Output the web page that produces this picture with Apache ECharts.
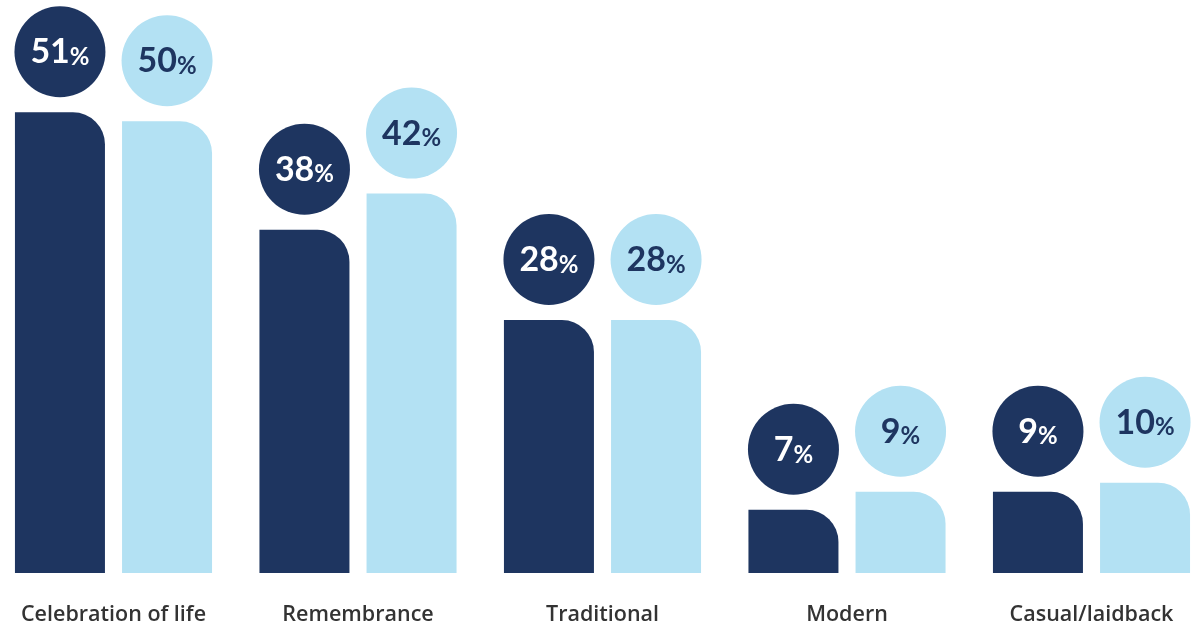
<!DOCTYPE html>
<html>
<head>
<meta charset="utf-8">
<script src="https://cdn.jsdelivr.net/npm/echarts@6/dist/echarts.min.js"></script>
<style>
    html, body {
        margin: 0;
        padding: 0;
        background: #fff;
    }
    #chart {
        width: 1204px;
        height: 625px;
    }
</style>
</head>
<body>
<div id="chart"></div>
<script>
const categories = ['Celebration of life', 'Remembrance', 'Traditional', 'Modern', 'Casual/laidback']
const darkValues = [51, 38, 28, 7, 9]
const lightValues = [50, 42, 28, 9, 10]

const DARK = '#1e3560'
const LIGHT = '#b3e1f3'

function circleLabel(bg, fg) {
    return {
        show: true,
        position: 'top',
        distance: 15,
        width: 91,
        padding: [31, 0, 28, 0],
        backgroundColor: bg,
        borderRadius: 46,
        align: 'center',
        formatter: p => '{n|' + p.value + '}{p|%}',
        rich: {
            n: {
                fontFamily: 'Lato',
                fontWeight: 'bold',
                fontSize: 34,
                lineHeight: 32,
                color: fg,
                verticalAlign: 'bottom',
            },
            p: {
                fontFamily: 'Lato',
                fontWeight: 'bold',
                fontSize: 24,
                lineHeight: 26,
                color: fg,
                verticalAlign: 'bottom',
            },
        },
    }
}

const chart = echarts.init(document.getElementById('chart'))
chart.setOption({
    animation: false,
    grid: {
        left: -8.75,
        width: 1222.5,
        bottom: 52,
        top: 31,
        outerBoundsMode: 'none',
        containLabel: false,
    },
    xAxis: {
        type: 'category',
        data: categories,
        axisLine: {show: false},
        axisTick: {show: false},
        axisLabel: {
            margin: 31,
            fontFamily: 'Open Sans',
            fontWeight: 600,
            fontSize: 21.5,
            color: '#333333',
        },
    },
    yAxis: {
        type: 'value',
        min: 0,
        max: 60,
        show: false,
        splitLine: {show: false},
    },
    series: [
        {
            type: 'bar',
            data: darkValues,
            barWidth: 90,
            barGap: '19%',
            itemStyle: {
                color: DARK,
                borderRadius: [0, 32, 0, 0],
            },
            label: circleLabel(DARK, '#ffffff'),
        },
        {
            type: 'bar',
            data: lightValues,
            barWidth: 90,
            itemStyle: {
                color: LIGHT,
                borderRadius: [0, 32, 0, 0],
            },
            label: circleLabel(LIGHT, DARK),
        },
    ],
})
</script>
</body>
</html>
